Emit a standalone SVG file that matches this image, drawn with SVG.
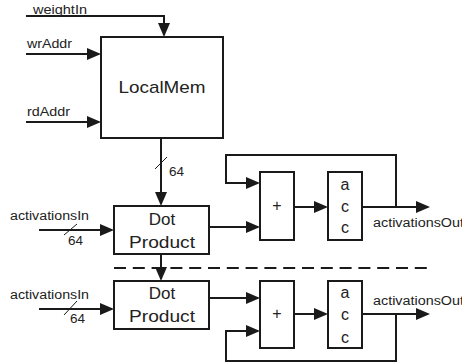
<svg xmlns="http://www.w3.org/2000/svg" width="462" height="364" viewBox="0 0 462 364">
  <style>
    .box { fill: #ffffff; stroke: #1a1a1a; stroke-width: 2; }
    .wire { fill: none; stroke: #1a1a1a; stroke-width: 2; }
    .arrow { marker-end: url(#head); }
    .slash { fill: none; stroke: #1a1a1a; stroke-width: 1; }
    .dash { fill: none; stroke: #1a1a1a; stroke-width: 2; stroke-dasharray: 12 6.8; }
    text { font-family: "Liberation Sans", Arial, sans-serif; fill: #222222; }
    .lbl { font-size: 12px; }
    .big { font-size: 17px; text-anchor: middle; }
    .mid { font-size: 16px; text-anchor: middle; }
  </style>
  <defs>
    <marker id="head" markerUnits="userSpaceOnUse" markerWidth="14" markerHeight="12" refX="12" refY="6" orient="auto" overflow="visible">
      <path d="M0,0 L14,6 L0,12 Z" fill="#1a1a1a"/>
    </marker>
  </defs>

  <!-- wires -->
  <g id="connectors">
    <path class="wire arrow" d="M26,16 H164 V35"/>
    <path class="wire arrow" d="M26,54 H99"/>
    <path class="wire arrow" d="M26,122 H99"/>
    <path class="wire arrow" d="M161,138 V204"/>
    <path class="slash" d="M155,169 L167,157"/>

    <path class="wire arrow" d="M39,230 H112"/>
    <path class="slash" d="M64,235 L77,224"/>
    <path class="wire arrow" d="M209,227 H258"/>
    <path class="wire arrow" d="M294,207 H326"/>
    <path class="wire arrow" d="M362,207 H428"/>
    <path class="wire arrow" d="M396,207 V155 H226 V183 H258"/>

    <path class="wire arrow" d="M161,254 V279"/>
    <path class="dash" d="M114,268 H427"/>

    <path class="wire arrow" d="M39,309 H112"/>
    <path class="slash" d="M64,315 L77,301"/>
    <path class="wire arrow" d="M209,298 H258"/>
    <path class="wire arrow" d="M294,314 H326"/>
    <path class="wire arrow" d="M362,314 H428"/>
    <path class="wire arrow" d="M396,314 V361 H226 V331 H258"/>
  </g>

  <!-- port labels -->
  <g id="labels">
    <text class="lbl" x="33" y="13.5" textLength="54" lengthAdjust="spacingAndGlyphs">weightIn</text>
    <text class="lbl" x="27" y="47.5" textLength="45" lengthAdjust="spacingAndGlyphs">wrAddr</text>
    <text class="lbl" x="27" y="116" textLength="43" lengthAdjust="spacingAndGlyphs">rdAddr</text>
    <text class="lbl" x="169" y="175.5" textLength="15" lengthAdjust="spacingAndGlyphs">64</text>
    <text class="lbl" x="10" y="219.5" textLength="79" lengthAdjust="spacingAndGlyphs">activationsIn</text>
    <text class="lbl" x="68" y="245" textLength="15" lengthAdjust="spacingAndGlyphs">64</text>
    <text class="lbl" x="10" y="298.5" textLength="79" lengthAdjust="spacingAndGlyphs">activationsIn</text>
    <text class="lbl" x="70" y="322.5" textLength="15" lengthAdjust="spacingAndGlyphs">64</text>
    <text class="lbl" x="373" y="227" textLength="91" lengthAdjust="spacingAndGlyphs">activationsOut</text>
    <text class="lbl" x="373" y="305" textLength="91" lengthAdjust="spacingAndGlyphs">activationsOut</text>
  </g>

  <g id="localmem">
    <rect class="box" x="101" y="37" width="122" height="101"/>
    <text class="big" x="162" y="93" textLength="87" lengthAdjust="spacingAndGlyphs">LocalMem</text>
  </g>

  <g id="dotproduct1">
    <rect class="box" x="114" y="206" width="95" height="48"/>
    <text class="big" x="162" y="224.5">Dot</text>
    <text class="big" x="162" y="247.5" textLength="66" lengthAdjust="spacingAndGlyphs">Product</text>
  </g>

  <g id="adder1">
    <rect class="box" x="260" y="172" width="34" height="68"/>
    <text class="mid" x="277" y="211">+</text>
  </g>

  <g id="acc1">
    <rect class="box" x="328" y="172" width="34" height="68"/>
    <text class="mid" x="345" y="190">a</text>
    <text class="mid" x="345" y="211.5">c</text>
    <text class="mid" x="345" y="232.5">c</text>
  </g>

  <g id="dotproduct2">
    <rect class="box" x="114" y="281" width="95" height="48"/>
    <text class="big" x="162" y="298.5">Dot</text>
    <text class="big" x="162" y="321.5" textLength="66" lengthAdjust="spacingAndGlyphs">Product</text>
  </g>

  <g id="adder2">
    <rect class="box" x="260" y="281" width="34" height="67"/>
    <text class="mid" x="277" y="319">+</text>
  </g>

  <g id="acc2">
    <rect class="box" x="328" y="281" width="34" height="67"/>
    <text class="mid" x="345" y="297.5">a</text>
    <text class="mid" x="345" y="320">c</text>
    <text class="mid" x="345" y="342.5">c</text>
  </g>
</svg>
